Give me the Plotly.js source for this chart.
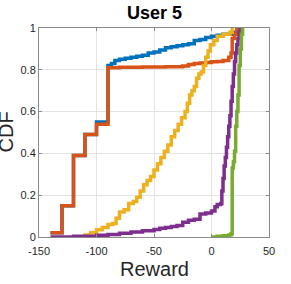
<!DOCTYPE html>
<html><head><meta charset="utf-8">
<script src="https://cdn.plot.ly/plotly-3.0.1.min.js"></script>
<style>html,body{margin:0;padding:0;background:#fff}#chart{width:291px;height:284px}</style>
</head><body><div id="chart"></div>
<script>
const xTicks = [-150, -100, -50, 0, 50];
const yTicks = [0, 0.2, 0.4, 0.6, 0.8, 1];
const yTickLabels = ['0', '0.2', '0.4', '0.6', '0.8', '1'];

const blueX = [-140, -130, -120, -110, -100, -90, -87, -84, -80, -75, -70, -65, -60, -55, -50, -45, -40, -35, -30, -25, -20, -15, -10, -5, 0, 5, 10, 15, 18, 20, 22, 25];
const blueY = [0.02, 0.15, 0.39, 0.49, 0.55, 0.82, 0.83, 0.845, 0.85, 0.855, 0.86, 0.865, 0.87, 0.88, 0.885, 0.895, 0.905, 0.91, 0.915, 0.92, 0.925, 0.94, 0.945, 0.955, 0.96, 0.965, 0.97, 0.97, 0.975, 0.98, 0.99, 1.0];

const orangeX = [-140, -130, -120, -110, -100, -90, -80, -60, -40, -25, -20, -15, -10, -5, 0, 5, 10, 15, 17, 18, 20, 22, 25];
const orangeY = [0.02, 0.15, 0.39, 0.49, 0.54, 0.81, 0.812, 0.813, 0.815, 0.818, 0.825, 0.83, 0.832, 0.835, 0.838, 0.84, 0.845, 0.86, 0.88, 0.95, 0.97, 0.99, 1.0];

const yellowX = [-115, -110, -105, -100, -95, -90, -86, -83, -80, -76, -72, -68, -65, -62, -59, -56, -53, -50, -47, -44, -41, -38, -35, -32, -29, -26, -23, -21, -19, -17, -15, -13, -11, -9, -7, -5, -3, -1, 2, 5, 10, 16, 18];
const yellowY = [0, 0.01, 0.02, 0.035, 0.045, 0.06, 0.065, 0.09, 0.12, 0.13, 0.16, 0.17, 0.19, 0.22, 0.25, 0.27, 0.29, 0.32, 0.35, 0.38, 0.41, 0.44, 0.48, 0.51, 0.54, 0.57, 0.60, 0.64, 0.68, 0.70, 0.72, 0.76, 0.78, 0.79, 0.82, 0.86, 0.89, 0.92, 0.94, 0.96, 0.97, 0.98, 1.0];

const purpleX = [-140, -120, -100, -90, -80, -70, -60, -50, -45, -40, -35, -30, -25, -20, -15, -10, -5, 0, 3, 5, 8, 9, 10, 11, 12, 13, 14, 15, 16, 17, 18, 19, 20, 21, 22, 23, 24, 25];
const purpleY = [0, 0.003, 0.008, 0.012, 0.018, 0.024, 0.03, 0.036, 0.042, 0.046, 0.05, 0.055, 0.07, 0.08, 0.085, 0.11, 0.115, 0.125, 0.145, 0.155, 0.16, 0.22, 0.28, 0.34, 0.38, 0.43, 0.48, 0.53, 0.58, 0.65, 0.72, 0.78, 0.84, 0.88, 0.92, 0.95, 0.98, 1.0];

const greenX = [0, 5, 10, 15, 17, 18, 19, 20, 21, 22, 23, 24, 25, 26, 27];
const greenY = [0, 0.003, 0.006, 0.01, 0.015, 0.33, 0.36, 0.41, 0.53, 0.6, 0.68, 0.82, 0.9, 0.97, 1.0];

const series = [
  {x: blueX, y: blueY, color: '#0072BD'},
  {x: orangeX, y: orangeY, color: '#D95319'},
  {x: yellowX, y: yellowY, color: '#EDB120'},
  {x: purpleX, y: purpleY, color: '#7E2F8E'},
  {x: greenX, y: greenY, color: '#77AC30'}
];

const traces = series.map(s => ({
  type: 'scatter', mode: 'lines', x: s.x, y: s.y,
  line: {color: s.color, width: 3.5, shape: 'hv'},
  hoverinfo: 'skip', showlegend: false
}));

const axisCommon = {
  showline: true, mirror: 'ticks', linecolor: '#8a8a8a', linewidth: 1,
  ticks: 'inside', ticklen: 3, tickcolor: '#8a8a8a',
  showgrid: true, gridcolor: '#e3e3e3', gridwidth: 1, zeroline: false,
  tickfont: {family: 'Liberation Sans, Arial, sans-serif', size: 11, color: '#262626'}
};

const layout = {
  width: 291, height: 284,
  margin: {l: 39, r: 22, t: 28, b: 47},
  paper_bgcolor: '#fff', plot_bgcolor: '#fff',
  showlegend: false,
  xaxis: Object.assign({}, axisCommon, {range: [-150, 50], tickvals: xTicks, ticktext: xTicks.map(String), ticklabelstandoff: 4}),
  yaxis: Object.assign({}, axisCommon, {range: [0, 1], tickvals: yTicks, ticktext: yTickLabels}),
  annotations: [
    {text: '<b>User 5</b>', xref: 'paper', yref: 'paper', x: 0.5, y: 1, yshift: 15, xanchor: 'center', yanchor: 'middle', showarrow: false,
     font: {family: 'Liberation Sans, Arial, sans-serif', size: 18, color: '#000'}},
    {text: 'Reward', xref: 'paper', yref: 'paper', x: 0.5, y: 0, yshift: -32, xanchor: 'center', yanchor: 'middle', showarrow: false,
     font: {family: 'Liberation Sans, Arial, sans-serif', size: 20, color: '#262626'}},
    {text: 'CDF', xref: 'paper', yref: 'paper', x: 0, xshift: -34, y: 0.5, textangle: -90, xanchor: 'center', yanchor: 'middle', showarrow: false,
     font: {family: 'Liberation Sans, Arial, sans-serif', size: 20, color: '#262626'}}
  ]
};

Plotly.newPlot('chart', traces, layout, {staticPlot: true, displayModeBar: false});
</script></body></html>
